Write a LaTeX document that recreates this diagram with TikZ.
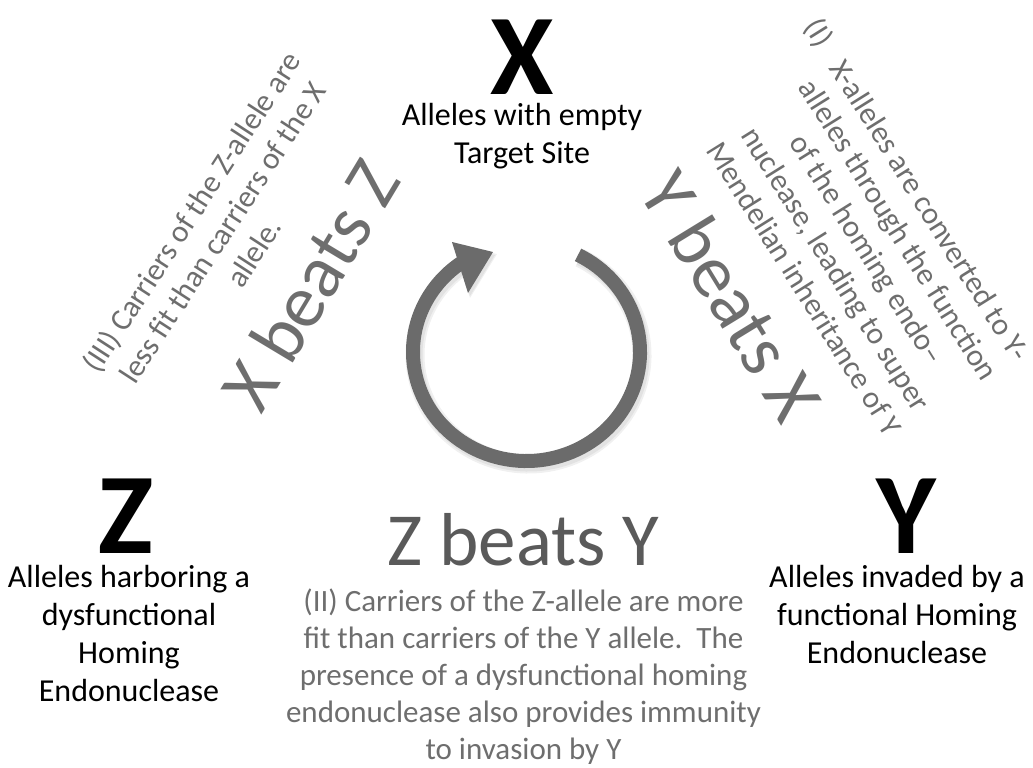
\documentclass[tikz,border=0pt]{standalone}
\usepackage{fontspec}
\setmainfont{Carlito}
\definecolor{arrowgray}{HTML}{6B6B6B}
\definecolor{txtgray}{HTML}{6E6E6E}
\definecolor{zygray}{HTML}{5A5A5A}
\definecolor{shadowA}{HTML}{F0F0F0}
\definecolor{shadowB}{HTML}{E2E2E2}
\begin{document}
\begin{tikzpicture}[x=1pt,y=1pt,
  letter/.style={font=\fontsize{115}{130}\selectfont\bfseries, inner sep=0pt, anchor=base},
  desc/.style={font=\fontsize{32}{38}\selectfont, align=center, inner sep=0pt, anchor=north},
  para/.style={font=\fontsize{31}{37}\selectfont, align=center, inner sep=0pt, text=txtgray},
  beats/.style={font=\fontsize{75}{90}\selectfont, inner sep=0pt, text=txtgray},
  ringarc/.style={line width=#1},
]
\useasboundingbox (0,0) rectangle (1033,-768);

% cycle arrow with soft shadow
\coordinate (cc) at (526.5,-352);
\coordinate (sc) at (528.5,-355);
\draw[line width=19pt, shadowA] (sc) ++(63:113.5pt and 109pt)
  arc[start angle=63, end angle=-235, x radius=113.5pt, y radius=109pt];
\draw[line width=15pt, shadowB] (sc) ++(63:113.5pt and 109pt)
  arc[start angle=63, end angle=-235, x radius=113.5pt, y radius=109pt];
\fill[shadowA] (452,-243) -- (497,-254) -- (470,-298) -- cycle;
\fill[shadowB] (454,-245) -- (495,-255) -- (470,-296) -- cycle;
\draw[line width=14pt, arrowgray] (cc) ++(63:113.5pt and 109pt)
  arc[start angle=63, end angle=-235, x radius=113.5pt, y radius=109pt];
\fill[arrowgray] (452,-242) -- (493,-252) -- (468,-293) -- cycle;

% big letters
\node[letter] (X) at (522,-95) {X};
\node[letter] (Z) at (126,-553) {Z};
\node[letter] (Y) at (906,-553) {Y};

% black descriptions
\node[desc] (xl) at (522,-103) {Alleles with empty\\Target Site};
\node[desc] (zl) at (129,-565) {Alleles harboring a\\dysfunctional\\Homing\\Endonuclease};
\node[desc] (yl) at (897,-565) {Alleles invaded by a\\functional Homing\\Endonuclease};

% beats labels
\node[beats, rotate=59] (xz) at (310,-285) {X beats Z};
\node[beats, rotate=-58.5] (yx) at (732,-296) {Y beats X};
\node[beats, anchor=base, text=zygray] (zy) at (523.5,-565) {Z beats Y};

% grey explanations
\node[para, rotate=57] (p3) at (222,-232) {(III) Carriers of the Z-allele are\\less fit than carriers of the X\\allele.};
\node[para, rotate=-58] (p1) at (868,-249) {\llap{(I)\hspace{22pt}}X-alleles are converted to Y-\\alleles through the function\\of the homing endo–\\nuclease, leading to super\\Mendelian inheritance of Y};
\node[para, anchor=north] (p2) at (523.5,-589) {(II) Carriers of the Z-allele are more\\fit than carriers of the Y allele.~~The\\presence of a dysfunctional homing\\endonuclease also provides immunity\\to invasion by Y};
\end{tikzpicture}
\end{document}
